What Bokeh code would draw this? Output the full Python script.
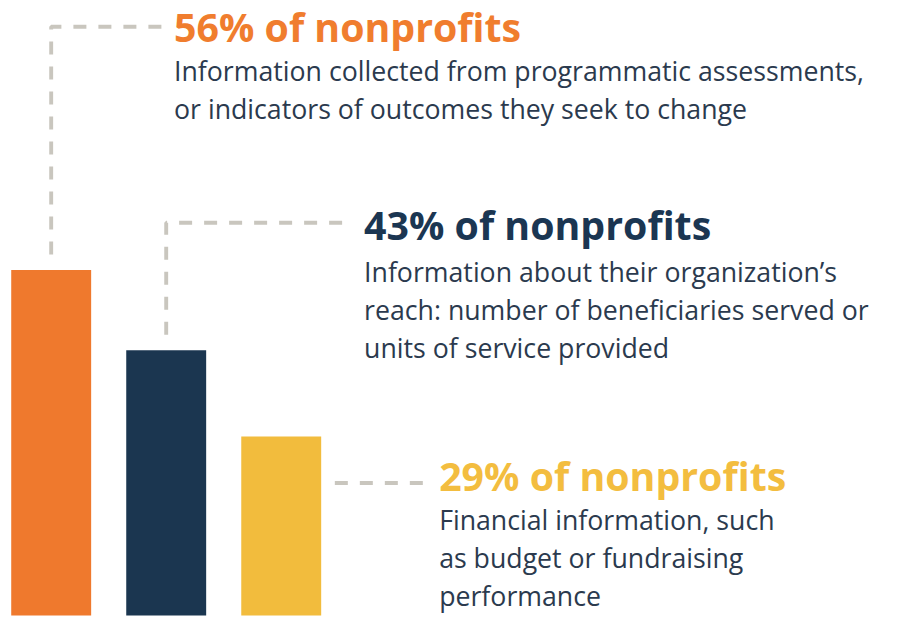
from bokeh.plotting import figure
from bokeh.models import Range1d
from bokeh.core.properties import value
from bokeh.embed import file_html
from bokeh.resources import INLINE

# ---- data ----
categories = ["Programmatic outcomes", "Organizational reach", "Financial information"]
values = [56, 43, 29]
headlines = [f"{v}% of nonprofits" for v in values]
descriptions = [
    ["Information collected from programmatic assessments,",
     "or indicators of outcomes they seek to change"],
    ["Information about their organization\u2019s",
     "reach: number of beneficiaries served or",
     "units of service provided"],
    ["Financial information, such",
     "as budget or fundraising",
     "performance"],
]

# ---- styles ----
bar_colors = ["#EF792D", "#1B3650", "#F2BC3D"]
head_colors = ["#F07D2E", "#1B3652", "#F3BD3F"]
body_color = "#2B3A4E"
conn_color = "#C9C6BE"
FONT = "Open Sans"

# ---- layout (reference pixel geometry, scaled to fit) ----
W, H = 882, 617
S = 617 / 633
BAR_C0, BAR_STEP, BAR_W = 52, 118, 82
ZERO_Y, PX_PER_PCT = 631, 6.33
TITLE_FS = 40.3 * S
BODY_FS = 27.4 * S
BASE_FIX = 0.38  # em; renderer places alphabetic baseline lower than anchor


def dx(px):
    return (px - BAR_C0) / BAR_STEP


def dy(py):
    return (ZERO_Y - py) / PX_PER_PCT


text_x = [178, 373, 450]
head_base = [42, 246, 503]
body_base = [82, 288, 543]
line_step = 39
corner_y = [27, 228, 495]
conn_end_x = [168, 360, 438]
conn3_start_x = 343
gap = 2.5

p = figure(width=W, height=H, output_backend="svg", toolbar_location=None,
           x_range=Range1d(dx(0), dx(W / S)),
           y_range=Range1d(dy(H / S), dy(0)),
           min_border=0)
p.axis.visible = False
p.grid.visible = False
p.outline_line_color = None
p.background_fill_color = "white"
p.border_fill_color = "white"

idx = list(range(len(values)))
p.vbar(x=idx, top=values, bottom=0, width=BAR_W / BAR_STEP,
       fill_color=bar_colors, line_color=None)

# connectors
xs, ys = [], []
for i in range(2):
    xs.append([i, i, dx(conn_end_x[i])])
    ys.append([values[i] + gap, dy(corner_y[i]), dy(corner_y[i])])
xs.append([dx(conn3_start_x), dx(conn_end_x[2])])
ys.append([dy(corner_y[2]), dy(corner_y[2])])
p.multi_line(xs, ys, line_color=conn_color, line_width=4 * S,
             line_dash="13 12")

# headlines
t_fix = BASE_FIX * TITLE_FS / S
p.text(x=[dx(v) for v in text_x], y=[dy(v - t_fix) for v in head_base],
       text=headlines, text_color=head_colors, text_font=value(FONT),
       text_font_style="bold", text_font_size=f"{TITLE_FS:.1f}px",
       text_baseline="alphabetic", text_align="left")

# body text
b_fix = BASE_FIX * BODY_FS / S
bx, by, bt = [], [], []
for i, lines in enumerate(descriptions):
    for j, ln in enumerate(lines):
        bx.append(dx(text_x[i]))
        by.append(dy(body_base[i] + j * line_step - b_fix))
        bt.append(ln)
p.text(x=bx, y=by, text=bt, text_color=body_color, text_font=value(FONT),
       text_font_size=f"{BODY_FS:.1f}px", text_baseline="alphabetic",
       text_align="left")

open("out.html", "w").write(file_html(p, INLINE))
